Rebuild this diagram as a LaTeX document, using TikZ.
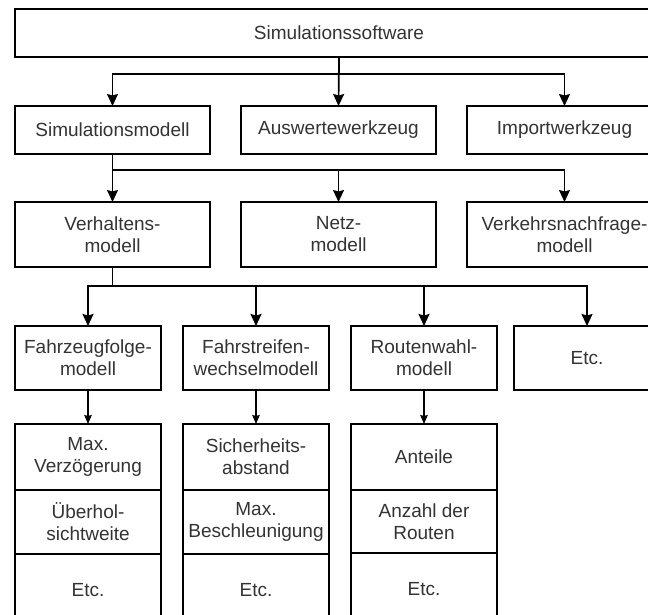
\documentclass[tikz,border=0pt]{standalone}
\usepackage{fontspec}
\setmainfont{Liberation Sans}
\usetikzlibrary{arrows.meta}
\definecolor{txt}{HTML}{333333}
\begin{document}
\begin{tikzpicture}[x=1pt,y=-1pt,
  box/.style={draw=black, line width=1.5pt, inner sep=0pt, outer sep=0pt, align=center, text=txt, font=\fontsize{19}{22}\selectfont},
  wide/.style={box, minimum width=648, minimum height=48},
  lvtwo/.style={box, minimum width=195, minimum height=48},
  lvthree/.style={box, minimum width=195, minimum height=65},
  lvfour/.style={box, minimum width=146, minimum height=64},
  cell/.style={box, minimum width=146},
  arr/.style={line width=1.7pt, -{Stealth[length=12pt,width=11pt,inset=1.5pt]}},
  arrs/.style={line width=1.3pt, -{Stealth[length=9pt,width=7.5pt,inset=1pt]}}]
\useasboundingbox (0,0) rectangle (648,614);
\clip (0,0) rectangle (648,614);
\fill[white] (0,0) rectangle (648,614);
% level 1
\node[wide] (soft) at (339,33) {Simulationssoftware};
% level 2
\node[lvtwo] (simmod) at (112.5,130) {Simulationsmodell};
\node[lvtwo] (ausw) at (338.5,130) {Auswertewerkzeug};
\node[lvtwo] (imp) at (564.5,130) {Importwerkzeug};
% level 3
\node[lvthree] (verh) at (112.5,234.5) {Verhaltens-\\modell};
\node[lvthree] (netz) at (338.5,234.5) {Netz-\\modell};
\node[lvthree] (vnf) at (564.5,234.5) {Verkehrsnachfrage-\\modell};
% level 4
\node[lvfour] (fzf) at (88,358) {Fahrzeugfolge-\\modell};
\node[lvfour] (fsw) at (256,358) {Fahrstreifen-\\wechselmodell};
\node[lvfour] (rw) at (424,358) {Routenwahl-\\modell};
\node[lvfour] (etc) at (587,358) {Etc.};
% level 5 stacks
\node[cell, minimum height=66] (fzfa) at (88,457) {Max.\\Verzögerung};
\node[cell, minimum height=64] (fzfb) at (88,522) {Überhol-\\sichtweite};
\node[cell, minimum height=72] (fzfc) at (88,590) {Etc.};
\node[cell, minimum height=66] (fswa) at (256,457) {Sicherheits-\\abstand};
\node[cell, minimum height=64] (fswb) at (256,522) {Max.\\Beschleunigung};
\node[cell, minimum height=72] (fswc) at (256,590) {Etc.};
\node[cell, minimum height=66] (rwa) at (424,457) {Anteile};
\node[cell, minimum height=63] (rwb) at (424,521.5) {Anzahl der\\Routen};
\node[cell, minimum height=73] (rwc) at (424,589.5) {Etc.};
% junctions
\coordinate (b1) at (339,74);
\coordinate (b2) at (112.5,170);
\coordinate (b3) at (112.5,286);
% connectors
\draw[arr] (soft.south) -- (b1) -| (simmod.north);
\draw[arr] (soft.south) -- (ausw.north);
\draw[arr] (soft.south) -- (b1) -| (imp.north);
\draw[arr] (simmod.south) -- (verh.north);
\draw[arr] (simmod.south) -- (b2) -| (netz.north);
\draw[arr] (simmod.south) -- (b2) -| (vnf.north);
\draw[arr] (verh.south) -- (b3) -| (fzf.north);
\draw[arr] (verh.south) -- (b3) -| (fsw.north);
\draw[arr] (verh.south) -- (b3) -| (rw.north);
\draw[arr] (verh.south) -- (b3) -| (etc.north);
\draw[arrs] (fzf.south) -- (fzfa.north);
\draw[arrs] (fsw.south) -- (fswa.north);
\draw[arrs] (rw.south) -- (rwa.north);
\end{tikzpicture}
\end{document}
